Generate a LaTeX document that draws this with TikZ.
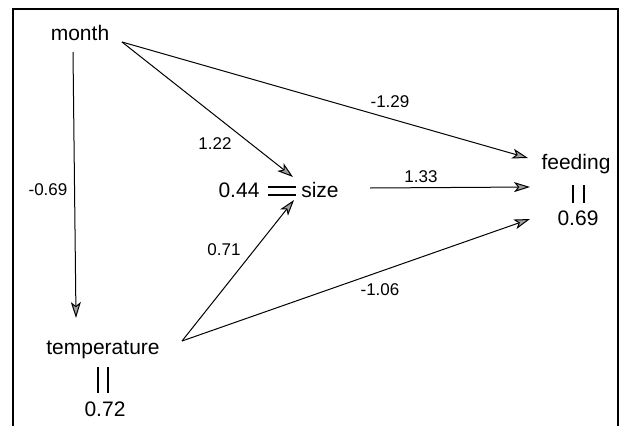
\documentclass[tikz,border=0pt]{standalone}
\usepackage{fontspec}
\setmainfont{Liberation Sans}
\usetikzlibrary{arrows.meta}
\begin{document}
\begin{tikzpicture}[x=1pt,y=-1pt,
  var/.style={inner sep=0pt, anchor=base, font=\fontsize{21}{25}\selectfont},
  lab/.style={inner sep=0pt, anchor=center, font=\fontsize{17}{20}\selectfont},
  conn/.style={line width=1pt, -{Stealth[length=16pt,width=10pt,inset=4pt,fill=gray!75]}},
  eqmark/.style={line width=1.1pt},
  frame/.style={line width=1.1pt}]
\useasboundingbox (0,0) rectangle (621,426);
\draw[frame] (13,426) -- (13,9) -- (618,9) -- (618,426);
% variables
\node[var] (month) at (80,40) {month};
\node[var] (temp) at (103,354) {temperature};
\node[var] (size) at (320,197) {size};
\node[var] (r44) at (239,197) {0.44};
\node[var] (feed) at (576,169) {feeding};
\node[var] (r69) at (578,225) {0.69};
\node[var] (r72) at (105,416) {0.72};
% connector end points
\coordinate (mS) at (122,42);
\coordinate (mT) at (73,52);
\coordinate (tT) at (76,318);
\coordinate (sI) at (293,177);
\coordinate (sB) at (294,200);
\coordinate (sO) at (370,188);
\coordinate (fA) at (528,158);
\coordinate (fB) at (530,187);
\coordinate (fC) at (530,219);
\coordinate (tO) at (182,341);
% connectors
\draw[conn] (mT) -- (tT);
\draw[conn] (mS) -- (sI);
\draw[conn] (mS) -- (fA);
\draw[conn] (sO) -- (fB);
\draw[conn] (tO) -- (sB);
\draw[conn] (tO) -- (fC);
% residual marks
\draw[eqmark] (268,187) -- (296,187) (268,195) -- (296,195);
\draw[eqmark] (98,367) -- (98,393) (108,367) -- (108,393);
\draw[eqmark] (573,185) -- (573,203) (584,185) -- (584,203);
% labels
\node[lab] at (390,102) {-1.29};
\node[lab] at (215,144) {1.22};
\node[lab] at (48,190) {-0.69};
\node[lab] at (421,177) {1.33};
\node[lab] at (224,250) {0.71};
\node[lab] at (380,290) {-1.06};
\end{tikzpicture}
\end{document}
